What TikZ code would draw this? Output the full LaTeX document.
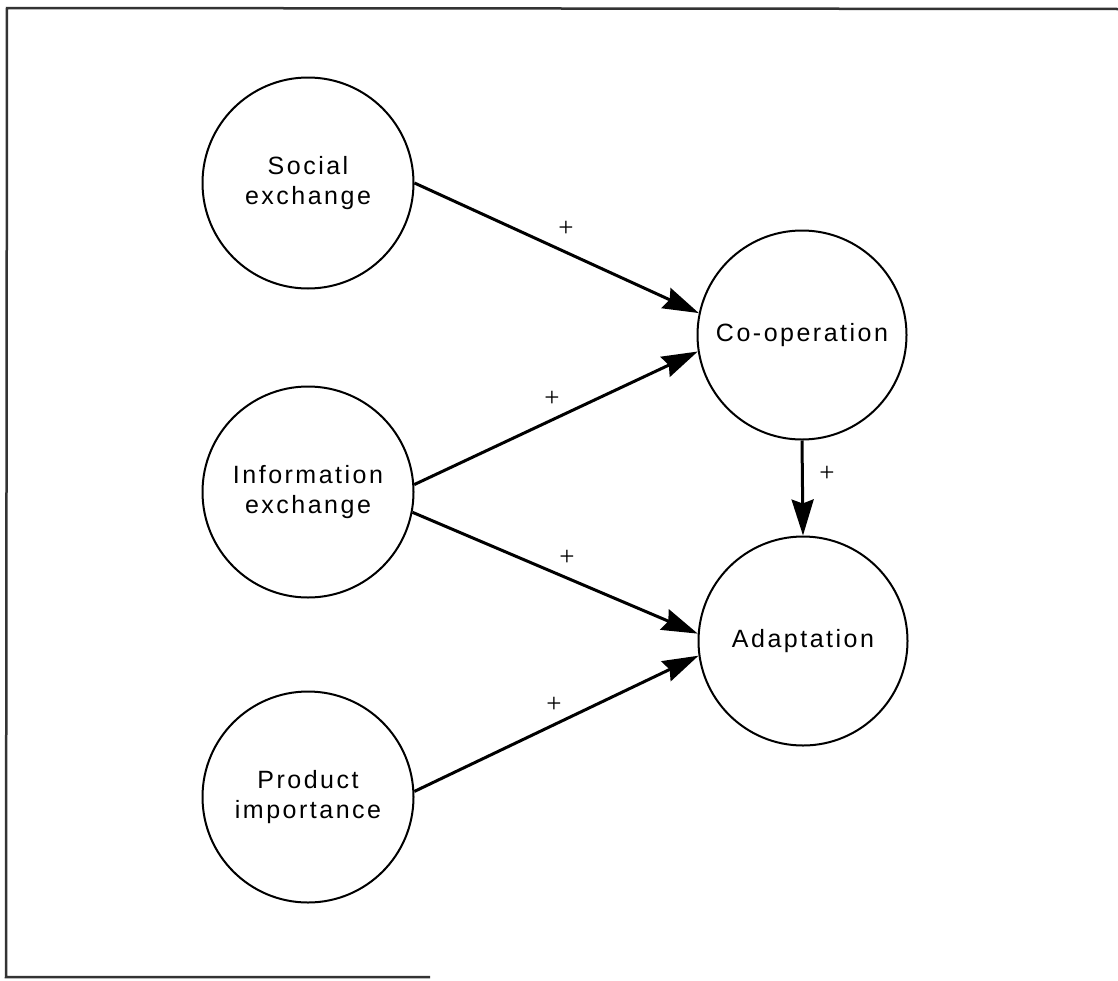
\documentclass[tikz,border=0pt]{standalone}
\usepackage{fontspec}
\setmainfont{Liberation Sans}[LetterSpace=10]
\newfontfamily\signfont{Liberation Serif}
\usetikzlibrary{arrows.meta}

\begin{document}
\begin{tikzpicture}[x=1pt,y=-1pt,
  concept/.style={circle, draw, line width=2pt, inner sep=0pt, align=center,
    font=\fontsize{25}{30}\selectfont},
  link/.style={line width=3pt, -{Stealth[length=36pt,width=22pt,inset=4pt]}},
  sign/.style={inner sep=0pt, font=\signfont\fontsize{27}{27}\selectfont}]

  \useasboundingbox (0,0) rectangle (1118,980);

  % outer frame
  \draw[line width=2.5pt, black!80] (1118,9) -- (7,8) -- (6,977) -- (430,977);

  % causes
  \node[concept, minimum size=211pt] (soc)  at (308,183) {Social\\exchange};
  \node[concept, minimum size=211pt] (info) at (308,492) {Information\\exchange};
  \node[concept, minimum size=211pt] (prod) at (308,797) {Product\\importance};

  % outcomes
  \node[concept, minimum size=209pt] (coop)  at (802,335) {Co-operation};
  \node[concept, minimum size=209pt] (adapt) at (803,641) {Adaptation};

  % relations
  \draw[link] (soc.0)   -- (coop.168);
  \draw[link] (info.4)  -- (coop.189);
  \draw[link] (info.-11) -- (adapt.176);
  \draw[link] (prod.3)  -- (adapt.188);
  \draw[link] (coop.270) -- (adapt.90);

  % signs of the relations
  \node[sign] (s1) at (566,229) {+};
  \node[sign] (s2) at (552,399) {+};
  \node[sign] (s3) at (567,558) {+};
  \node[sign] (s4) at (554,705) {+};
  \node[sign] (s5) at (827,474) {+};
\end{tikzpicture}
\end{document}
